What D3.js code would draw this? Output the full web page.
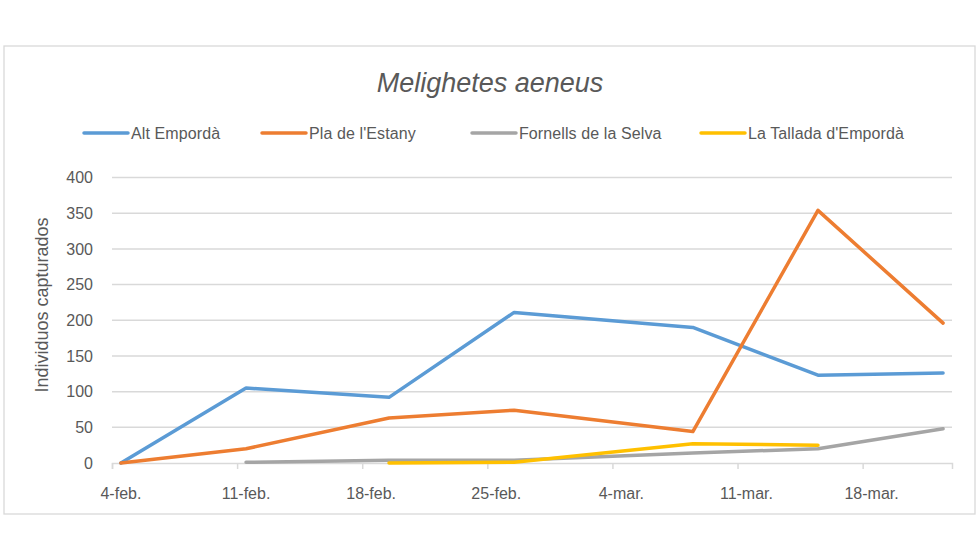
<!DOCTYPE html>
<html><head><meta charset="utf-8">
<script src="https://cdn.jsdelivr.net/npm/d3@7"></script>
<style>body{margin:0;background:#fff}text{font-family:"Liberation Sans",Arial,sans-serif;fill:#595959}</style>
</head><body><svg id="c" width="980" height="560"></svg>
<script>
const title = "Melighetes aeneus";
const yTitle = "Individuos capturados";
const dates = ["2018-02-04","2018-02-11","2018-02-19","2018-02-26","2018-03-08","2018-03-15","2018-03-22"];
const seriesNames = ["Alt Empordà","Pla de l'Estany","Fornells de la Selva","La Tallada d'Empordà"];
const altEmporda = [0,105,92,211,190,123,126];
const plaEstany = [0,20,63,74,44,354,196];
const fornells = [null,1,4,4,14,20,48];
const tallada = [null,null,0,1,27,25,null];
const colors = ["#5B9BD5","#ED7D31","#A5A5A5","#FFC000"];
const yTicks = [0,50,100,150,200,250,300,350,400];
const xTickDates = ["2018-02-04","2018-02-11","2018-02-18","2018-02-25","2018-03-04","2018-03-11","2018-03-18"];
const xTickLabels = ["4-feb.","11-feb.","18-feb.","25-feb.","4-mar.","11-mar.","18-mar."];

const svg = d3.select("#c");
const DAY = 86400000;
const parse = s => new Date(s + "T00:00:00Z");
const x = d3.scaleUtc().domain([parse("2018-02-04"), parse("2018-03-23")]).range([112, 952]);
const xc = s => x(new Date(parse(s).getTime() + DAY/2));
const y = d3.scaleLinear().domain([0,400]).range([463,177.5]);

svg.append("rect").attr("x",4).attr("y",46).attr("width",971).attr("height",468)
  .attr("fill","#fff").attr("stroke","#d9d9d9").attr("stroke-width",1.3);

svg.append("text").attr("x",490).attr("y",92).attr("text-anchor","middle")
  .attr("font-size",27).attr("font-style","italic").text(title);

// gridlines
svg.append("g").selectAll("line").data(yTicks.filter(d=>d>0)).join("line")
  .attr("x1",112).attr("x2",952).attr("y1",d=>y(d)).attr("y2",d=>y(d))
  .attr("stroke","#d9d9d9").attr("stroke-width",1.5);

// y axis labels
const ya = svg.append("g").attr("transform","translate(112,0)")
  .call(d3.axisLeft(y).tickValues(yTicks).tickSize(0).tickPadding(19));
ya.select(".domain").remove();
ya.selectAll("text").attr("font-size",16).style("font-family","Liberation Sans, Arial").attr("fill","#595959");

// x axis
const xa = svg.append("g").attr("transform","translate(0,463)")
  .call(d3.axisBottom(x).tickValues(xTickDates.map(parse).concat([parse("2018-03-23")])).tickSize(6).tickFormat(""));
xa.select(".domain").attr("stroke","#d9d9d9").attr("stroke-width",1.5);
xa.selectAll(".tick line").attr("stroke","#d9d9d9").attr("stroke-width",1.5);
xa.selectAll(".tick").filter((d,i)=>i===7).remove();
svg.append("g").selectAll("text").data(xTickDates).join("text")
  .attr("x",d=>xc(d)).attr("y",499).attr("text-anchor","middle").attr("font-size",16)
  .text((d,i)=>xTickLabels[i]);

svg.append("text").attr("transform","translate(48,305) rotate(-90)").attr("text-anchor","middle")
  .attr("font-size",18).text(yTitle);

const all = [altEmporda, plaEstany, fornells, tallada];
const line = d3.line().defined(d=>d[1]!=null).x(d=>xc(d[0])).y(d=>y(d[1]));
all.forEach((vals,i)=>{
  const pts = dates.map((d,j)=>[d, vals[j]]);
  svg.append("path").attr("d", line(pts)).attr("fill","none").attr("stroke",colors[i])
    .attr("stroke-width",3.5).attr("stroke-linejoin","round").attr("stroke-linecap","round");
});

// legend
const legX = [84, 262, 472, 701];
const lg = svg.append("g");
seriesNames.forEach((n,i)=>{
  lg.append("line").attr("x1",legX[i]).attr("x2",legX[i]+44).attr("y1",133).attr("y2",133)
    .attr("stroke",colors[i]).attr("stroke-width",3.5).attr("stroke-linecap","round");
  lg.append("text").attr("x",legX[i]+47).attr("y",139).attr("font-size",16).attr("letter-spacing",0.1).text(n);
});
</script></body></html>
